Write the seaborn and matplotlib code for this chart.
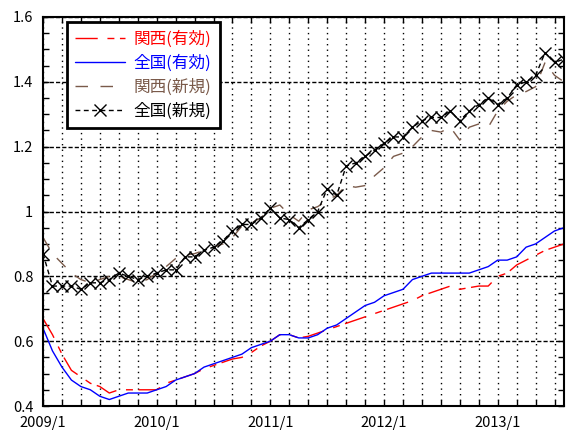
import numpy as np
import pandas as pd
import matplotlib
matplotlib.use("Agg")
import matplotlib.pyplot as plt
import matplotlib.ticker as mticker
import seaborn as sns

# Monthly job-offer ratios, 2009/1 .. 2013/8
kansai_yuko = [0.67, 0.62, 0.56, 0.51, 0.49, 0.47, 0.46, 0.44, 0.45, 0.45, 0.45, 0.45,
               0.45, 0.47, 0.48, 0.49, 0.50, 0.515, 0.525, 0.535, 0.545, 0.55, 0.565, 0.585,
               0.60, 0.62, 0.62, 0.61, 0.615, 0.625, 0.635, 0.645, 0.655, 0.665, 0.675, 0.685,
               0.695, 0.705, 0.715, 0.725, 0.74, 0.75, 0.76, 0.77, 0.76, 0.765, 0.77, 0.77,
               0.80, 0.81, 0.835, 0.85, 0.865, 0.88, 0.89, 0.90]
zenkoku_yuko = [0.64, 0.57, 0.52, 0.48, 0.46, 0.45, 0.43, 0.42, 0.43, 0.44, 0.44, 0.44,
                0.45, 0.46, 0.48, 0.49, 0.50, 0.52, 0.53, 0.54, 0.55, 0.56, 0.58, 0.59,
                0.60, 0.62, 0.62, 0.61, 0.61, 0.62, 0.64, 0.65, 0.67, 0.69, 0.71, 0.72,
                0.74, 0.75, 0.76, 0.79, 0.80, 0.81, 0.81, 0.81, 0.81, 0.81, 0.82, 0.83,
                0.85, 0.85, 0.86, 0.89, 0.90, 0.92, 0.94, 0.95]
kansai_shinki = [0.92, 0.87, 0.84, 0.81, 0.79, 0.78, 0.79, 0.80, 0.80, 0.79, 0.78, 0.79,
                 0.81, 0.83, 0.855, 0.865, 0.87, 0.88, 0.89, 0.90, 0.92, 0.955, 0.965, 0.98,
                 1.01, 1.02, 0.99, 0.97, 1.005, 1.015, 1.035, 1.05, 1.08, 1.075, 1.08, 1.11,
                 1.135, 1.17, 1.18, 1.20, 1.23, 1.25, 1.245, 1.26, 1.22, 1.26, 1.27, 1.26,
                 1.31, 1.34, 1.36, 1.37, 1.385, 1.46, 1.42, 1.40]
zenkoku_shinki = [0.87, 0.77, 0.77, 0.77, 0.76, 0.78, 0.78, 0.79, 0.81, 0.80, 0.79, 0.80,
                  0.81, 0.82, 0.82, 0.86, 0.86, 0.88, 0.89, 0.91, 0.94, 0.96, 0.96, 0.98,
                  1.01, 0.98, 0.975, 0.95, 0.975, 1.00, 1.07, 1.05, 1.14, 1.15, 1.17, 1.19,
                  1.21, 1.23, 1.23, 1.26, 1.28, 1.29, 1.29, 1.31, 1.28, 1.31, 1.33, 1.35,
                  1.33, 1.35, 1.39, 1.40, 1.42, 1.49, 1.46, 1.47]

series_names = ["関西(有効)", "全国(有効)", "関西(新規)", "全国(新規)"]
year_labels = ["2009/1", "2010/1", "2011/1", "2012/1", "2013/1"]

month_idx = np.arange(len(zenkoku_yuko))
df = pd.DataFrame({
    "month": month_idx,
    series_names[0]: kansai_yuko,
    series_names[1]: zenkoku_yuko,
    series_names[2]: kansai_shinki,
    series_names[3]: zenkoku_shinki,
})

sns.set_style("white")
plt.rcParams["font.family"] = ["Noto Sans CJK JP", "DejaVu Sans"]

fig = plt.figure(figsize=(5.67, 4.32), dpi=100)
ax = fig.add_axes([43 / 567, 1 - 406 / 432, (564 - 43) / 567, (406 - 17) / 432])

brown = "#7a5a4a"
styles = [
    dict(color="#ff0000", linestyle=(0, (16, 7, 5, 4)), linewidth=1.0),
    dict(color="#0000ff", linestyle="-", linewidth=1.0),
    dict(color=brown, linestyle=(0, (9, 9)), linewidth=1.0),
    dict(color="black", linestyle=(0, (3.5, 2.5)), linewidth=1.0,
         marker="x", markersize=8, markeredgewidth=1.0, markeredgecolor="black"),
]
text_colors = ["#ff0000", "#0000ff", brown, "black"]

for name, st in zip(series_names, styles):
    sns.lineplot(data=df, x="month", y=name, ax=ax, label=name, **st)

ax.set_xlim(0, 55)
ax.set_ylim(0.4, 1.6)
ax.set_xlabel("")
ax.set_ylabel("")

ax.xaxis.set_major_locator(mticker.FixedLocator([0, 12, 24, 36, 48]))
ax.xaxis.set_major_formatter(mticker.FixedFormatter(year_labels))
ax.xaxis.set_minor_locator(mticker.MultipleLocator(2))
ax.yaxis.set_major_locator(mticker.MultipleLocator(0.2))
ax.yaxis.set_minor_locator(mticker.MultipleLocator(0.05))
ax.yaxis.set_major_formatter(mticker.FormatStrFormatter("%g"))

ax.grid(False)
ax.xaxis.grid(True, which="both", color="black", linestyle=(0, (1, 3)), linewidth=1.0)
ax.yaxis.grid(True, which="major", color="black", linestyle=(0, (3, 1.5)), linewidth=1.0)
ax.set_axisbelow(True)

ax.tick_params(axis="both", which="both", direction="in", top=True, right=True,
               bottom=True, left=True, length=4, width=1, color="black")
ax.tick_params(axis="both", which="major", labelsize=10.5, pad=7, labelcolor="black")

for sp in ax.spines.values():
    sp.set_visible(True)
    sp.set_color("black")
    sp.set_linewidth(1.5)

leg = ax.legend(loc="upper left", bbox_to_anchor=(0.046, 0.987), borderaxespad=0,
                fancybox=False, framealpha=1, edgecolor="black", fontsize=12,
                handlelength=3.0, handletextpad=0.5, labelspacing=0.4,
                borderpad=0.5)
leg.get_frame().set_linewidth(2.0)
for txt, c in zip(leg.get_texts(), text_colors):
    txt.set_color(c)

fig.savefig("out.png", dpi=100, facecolor="white")
